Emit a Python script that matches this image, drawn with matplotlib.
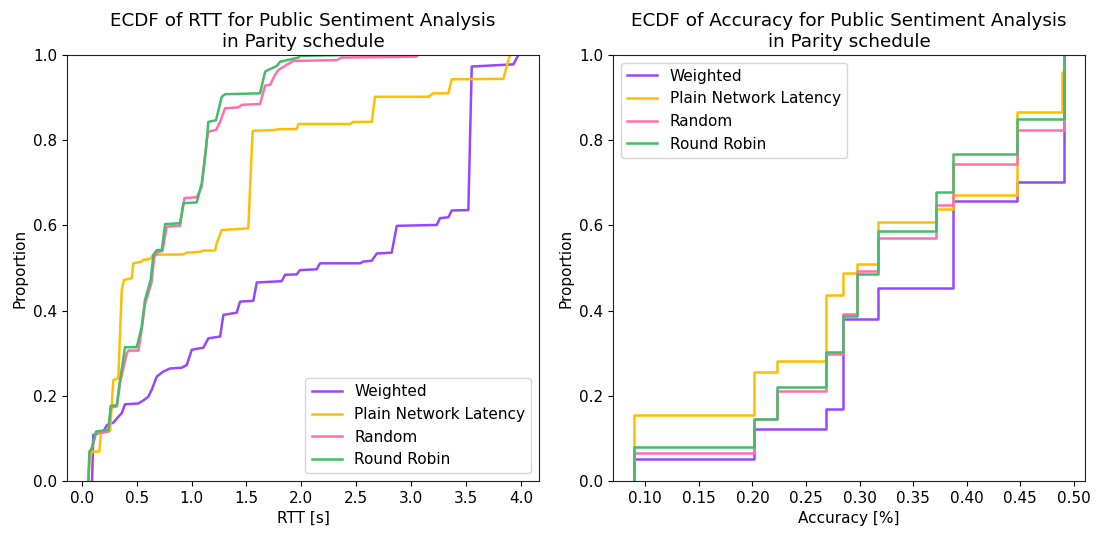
import matplotlib
matplotlib.use("Agg")
import matplotlib.pyplot as plt
import numpy as np

labels = ["Weighted", "Plain Network Latency", "Random", "Round Robin"]
colors = ["#9747FF", "#FFBF00", "#FF6EAE", "#45BC68"]

# RTT ECDF curves (x in s, proportion)
rtt_weighted_x = [0.094, 0.105, 0.197, 0.228, 0.288, 0.334, 0.364, 0.394, 0.516, 0.561,
                  0.607, 0.637, 0.683, 0.743, 0.804, 0.911, 0.956, 1.002, 1.108, 1.153,
                  1.260, 1.290, 1.411, 1.442, 1.563, 1.594, 1.821, 1.852, 1.958, 1.988,
                  2.140, 2.170, 2.535, 2.565, 2.641, 2.687, 2.823, 2.869, 3.233, 3.263,
                  3.339, 3.370, 3.521, 3.552, 3.931, 3.977]
rtt_weighted_p = [0.0, 0.108, 0.116, 0.131, 0.137, 0.151, 0.159, 0.180, 0.182, 0.189,
                  0.198, 0.214, 0.245, 0.257, 0.264, 0.266, 0.272, 0.308, 0.313, 0.335,
                  0.339, 0.390, 0.395, 0.421, 0.423, 0.466, 0.469, 0.484, 0.485, 0.495,
                  0.497, 0.511, 0.511, 0.515, 0.517, 0.534, 0.536, 0.599, 0.601, 0.617,
                  0.619, 0.635, 0.636, 0.973, 0.978, 1.0]

rtt_plain_x = [0.060, 0.070, 0.090, 0.160, 0.175, 0.258, 0.273, 0.288, 0.333, 0.364,
               0.385, 0.455, 0.470, 0.546, 0.561, 0.622, 0.652, 0.925, 0.956, 1.077,
               1.107, 1.214, 1.229, 1.275, 1.517, 1.548, 1.557, 1.760, 1.791, 1.958,
               1.973, 2.444, 2.474, 2.641, 2.671, 3.157, 3.202, 3.339, 3.370, 3.840,
               3.870, 3.901]
rtt_plain_p = [0.0, 0.045, 0.069, 0.069, 0.112, 0.118, 0.178, 0.237, 0.241, 0.448,
               0.472, 0.476, 0.511, 0.515, 0.519, 0.521, 0.531, 0.532, 0.536, 0.538,
               0.541, 0.541, 0.558, 0.589, 0.593, 0.777, 0.822, 0.824, 0.826, 0.826,
               0.838, 0.838, 0.843, 0.843, 0.902, 0.902, 0.910, 0.910, 0.943, 0.944,
               0.973, 1.0]

rtt_random_x = [0.061, 0.070, 0.091, 0.130, 0.243, 0.264, 0.319, 0.349, 0.410, 0.425,
                0.516, 0.546, 0.576, 0.635, 0.660, 0.690, 0.735, 0.774, 0.895, 0.935,
                1.047, 1.093, 1.138, 1.153, 1.223, 1.260, 1.305, 1.426, 1.457, 1.624,
                1.670, 1.715, 1.760, 1.791, 1.867, 1.927, 2.322, 2.367, 3.040, 3.066]
rtt_random_p = [0.0, 0.065, 0.075, 0.112, 0.116, 0.172, 0.175, 0.230, 0.300, 0.306,
                0.306, 0.355, 0.415, 0.465, 0.525, 0.537, 0.540, 0.597, 0.599, 0.664,
                0.666, 0.691, 0.800, 0.820, 0.824, 0.843, 0.875, 0.877, 0.883, 0.885,
                0.928, 0.930, 0.953, 0.965, 0.977, 0.986, 0.988, 0.994, 0.996, 1.0]

rtt_rr_x = [0.061, 0.070, 0.091, 0.130, 0.243, 0.264, 0.319, 0.349, 0.394, 0.501,
            0.546, 0.576, 0.628, 0.652, 0.683, 0.729, 0.759, 0.895, 0.926, 1.047,
            1.093, 1.132, 1.153, 1.223, 1.275, 1.305, 1.624, 1.670, 1.699, 1.776,
            1.806, 1.973, 1.988, 2.383]
rtt_rr_p = [0.0, 0.069, 0.077, 0.116, 0.120, 0.176, 0.178, 0.237, 0.314, 0.314,
            0.362, 0.425, 0.472, 0.530, 0.542, 0.542, 0.603, 0.605, 0.652, 0.654,
            0.699, 0.780, 0.843, 0.847, 0.902, 0.908, 0.910, 0.961, 0.965, 0.974,
            0.984, 0.994, 0.998, 1.0]

# Accuracy ECDF steps (value, cumulative proportion)
acc_weighted_x = [0.0897, 0.2018, 0.2687, 0.2843, 0.3176, 0.3873, 0.4471, 0.4905]
acc_weighted_p = [0.052, 0.121, 0.170, 0.381, 0.452, 0.657, 0.701, 1.0]

acc_plain_x = [0.0897, 0.2018, 0.2230, 0.2687, 0.2843, 0.2974, 0.3176, 0.3714,
               0.3873, 0.4471, 0.4890, 0.4912]
acc_plain_p = [0.155, 0.256, 0.282, 0.437, 0.489, 0.509, 0.608, 0.638,
               0.671, 0.867, 0.961, 1.0]

acc_random_x = [0.0897, 0.2018, 0.2230, 0.2687, 0.2843, 0.2974, 0.3176, 0.3714,
                0.3873, 0.4471, 0.4905]
acc_random_p = [0.0665, 0.146, 0.211, 0.298, 0.392, 0.492, 0.570, 0.649,
                0.743, 0.824, 1.0]

acc_rr_x = [0.0897, 0.2018, 0.2230, 0.2687, 0.2843, 0.2974, 0.3176, 0.3714,
            0.3873, 0.4471, 0.4905]
acc_rr_p = [0.0806, 0.1455, 0.2207, 0.303, 0.388, 0.487, 0.587, 0.679,
            0.767, 0.849, 1.0]

rtt = [(rtt_weighted_x, rtt_weighted_p), (rtt_plain_x, rtt_plain_p),
       (rtt_random_x, rtt_random_p), (rtt_rr_x, rtt_rr_p)]
acc = [(acc_weighted_x, acc_weighted_p), (acc_plain_x, acc_plain_p),
       (acc_random_x, acc_random_p), (acc_rr_x, acc_rr_p)]

plt.rcParams["font.size"] = 11
plt.rcParams["axes.edgecolor"] = "#222222"

fig = plt.figure(figsize=(10.99, 5.34), dpi=100)
ax1 = fig.add_axes([0.061, 0.0993, 0.4295, 0.7977])
ax2 = fig.add_axes([0.5578, 0.0993, 0.4295, 0.7977])

for (x, p), lab, c in zip(rtt, labels, colors):
    ax1.plot(x, p, color=c, lw=1.8, label=lab)

for (x, p), lab, c in zip(acc, labels, colors):
    xs = np.r_[x[0], x]
    ps = np.r_[0.0, p]
    ax2.step(xs, ps, where="post", color=c, lw=1.8, label=lab)

ax1.set_xlim(-0.134, 4.165)
ax1.set_xticks(np.arange(0, 4.01, 0.5))
ax2.set_xlim(0.0698, 0.5105)
ax2.set_xticks(np.arange(0.10, 0.501, 0.05))

for ax in (ax1, ax2):
    ax.set_ylim(0, 1)
    ax.set_yticks(np.arange(0, 1.01, 0.2))
    ax.set_ylabel("Proportion")

ax1.set_xlabel("RTT [s]")
ax2.set_xlabel("Accuracy [%]")
ax1.set_title("ECDF of RTT for Public Sentiment Analysis\nin Parity schedule", fontsize=13.2)
ax2.set_title("ECDF of Accuracy for Public Sentiment Analysis\nin Parity schedule", fontsize=13.2)
ax1.legend(loc="lower right")
ax2.legend(loc="upper left")

fig.savefig("out.png", dpi=100)
